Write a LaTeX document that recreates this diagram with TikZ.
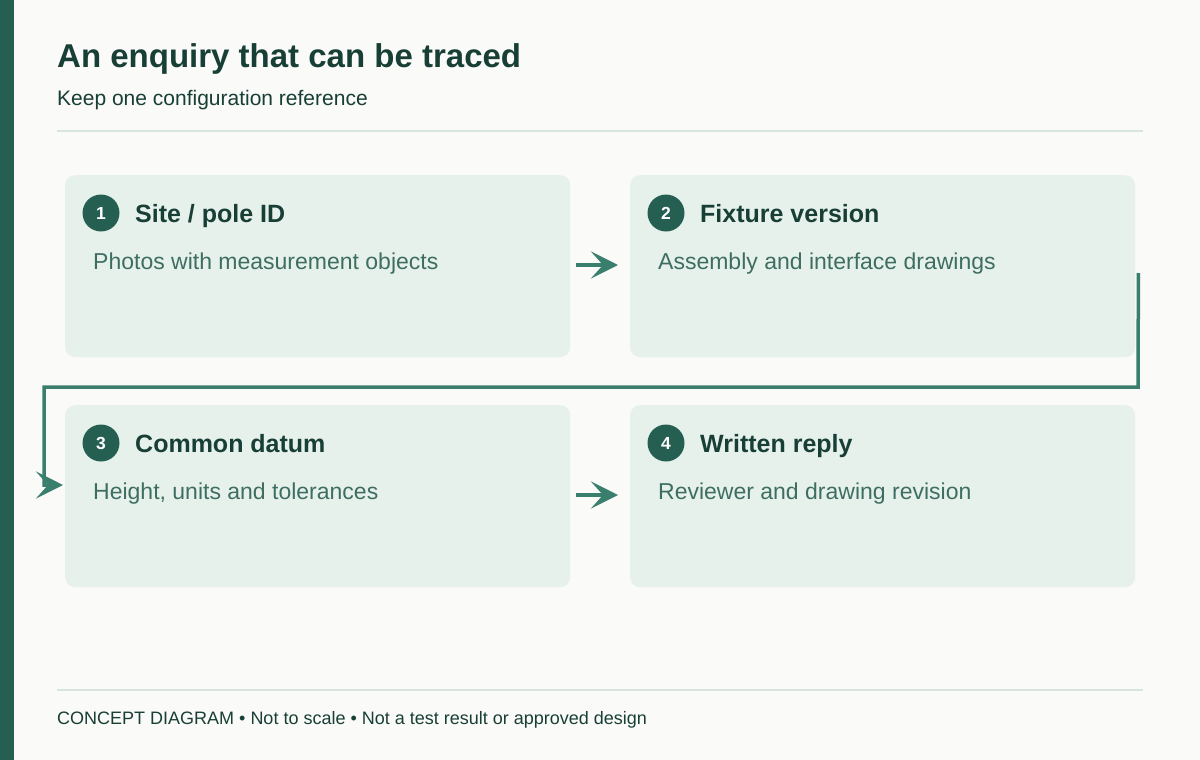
\documentclass[tikz,border=0pt]{standalone}
\usepackage{fontspec}
\setmainfont{Liberation Sans}
\usetikzlibrary{arrows.meta,calc}
\definecolor{bg}{HTML}{FAFAF8}
\definecolor{bar}{HTML}{245F51}
\definecolor{ink}{HTML}{183F36}
\definecolor{boxfill}{HTML}{E7F1EC}
\definecolor{desc}{HTML}{3E6E62}
\definecolor{arrowc}{HTML}{3A7F6E}
\definecolor{rulec}{HTML}{D8E5DF}
\begin{document}
\begin{tikzpicture}[x=1pt,y=-1pt,
  stepbox/.style={draw=none,fill=boxfill,rounded corners=10pt,minimum width=505pt,minimum height=182pt,anchor=north west,inner sep=0pt},
  numdot/.style={circle,fill=bar,minimum size=37pt,inner sep=0pt,text=white,font=\fontsize{17.5}{21}\selectfont\bfseries},
  steptitle/.style={anchor=base west,inner sep=0pt,text=ink,font=\fontsize{25}{30}\selectfont\bfseries},
  stepdesc/.style={anchor=base west,inner sep=0pt,text=desc,font=\fontsize{23}{28}\selectfont},
  arr/.style={draw=arrowc,line width=4.5pt,-{Stealth[length=27pt,width=27pt,inset=12pt]}},
  conn/.style={draw=arrowc,line width=3.5pt,-{Stealth[length=27pt,width=27pt,inset=12pt]}},
  rulel/.style={draw=rulec,line width=2pt}
]
\useasboundingbox (0,0) rectangle (1200,760);
\fill[bg] (0,0) rectangle (1200,760);
\fill[bar] (0,0) rectangle (14,760);

\node[anchor=base west,inner sep=0pt,text=ink,font=\fontsize{33}{40}\selectfont\bfseries] (title) at (57,67) {An enquiry that can be traced};
\node[anchor=base west,inner sep=0pt,text=ink,font=\fontsize{21}{25}\selectfont] (subtitle) at (57,105) {Keep one configuration reference};
\coordinate (r1a) at (57,131); \coordinate (r1b) at (1143,131);
\draw[rulel] (r1a) -- (r1b);

\node[stepbox] (box1) at (65,175) {};
\node[stepbox] (box2) at (630,175) {};
\node[stepbox] (box3) at (65,405) {};
\node[stepbox] (box4) at (630,405) {};

\node[numdot] (n1) at (101,213) {1};
\node[numdot] (n2) at (666,213) {2};
\node[numdot] (n3) at (101,443) {3};
\node[numdot] (n4) at (666,443) {4};

\node[steptitle] (t1) at (135,222) {Site / pole ID};
\node[steptitle] (t2) at (700,222) {Fixture version};
\node[steptitle] (t3) at (135,452) {Common datum};
\node[steptitle] (t4) at (700,452) {Written reply};

\node[stepdesc] (d1) at (93,269) {Photos with measurement objects};
\node[stepdesc] (d2) at (658,269) {Assembly and interface drawings};
\node[stepdesc] (d3) at (93,499) {Height, units and tolerances};
\node[stepdesc] (d4) at (658,499) {Reviewer and drawing revision};

\draw[arr,shorten <=6pt,shorten >=12pt] (box1.east |- 0,265) -- (box2.west |- 0,265);
\draw[arr,shorten <=6pt,shorten >=12pt] (box3.east |- 0,495) -- (box4.west |- 0,495);

\coordinate (c1) at ($(box2.north east)+(3,98)$);
\coordinate (c2) at (1138,387);
\coordinate (c3) at (44,387);
\coordinate (c4) at (44,485);
\draw[conn,line join=miter,shorten >=2pt] (c1) -- (c2) -- (c3) -- (c4) -- (box3.west |- c4);

\coordinate (r2a) at (57,690); \coordinate (r2b) at (1143,690);
\draw[rulel] (r2a) -- (r2b);
\node[anchor=base west,inner sep=0pt,text=ink,font=\fontsize{18}{22}\selectfont] (foot) at (57,724) {CONCEPT DIAGRAM • Not to scale • Not a test result or approved design};
\end{tikzpicture}
\end{document}
